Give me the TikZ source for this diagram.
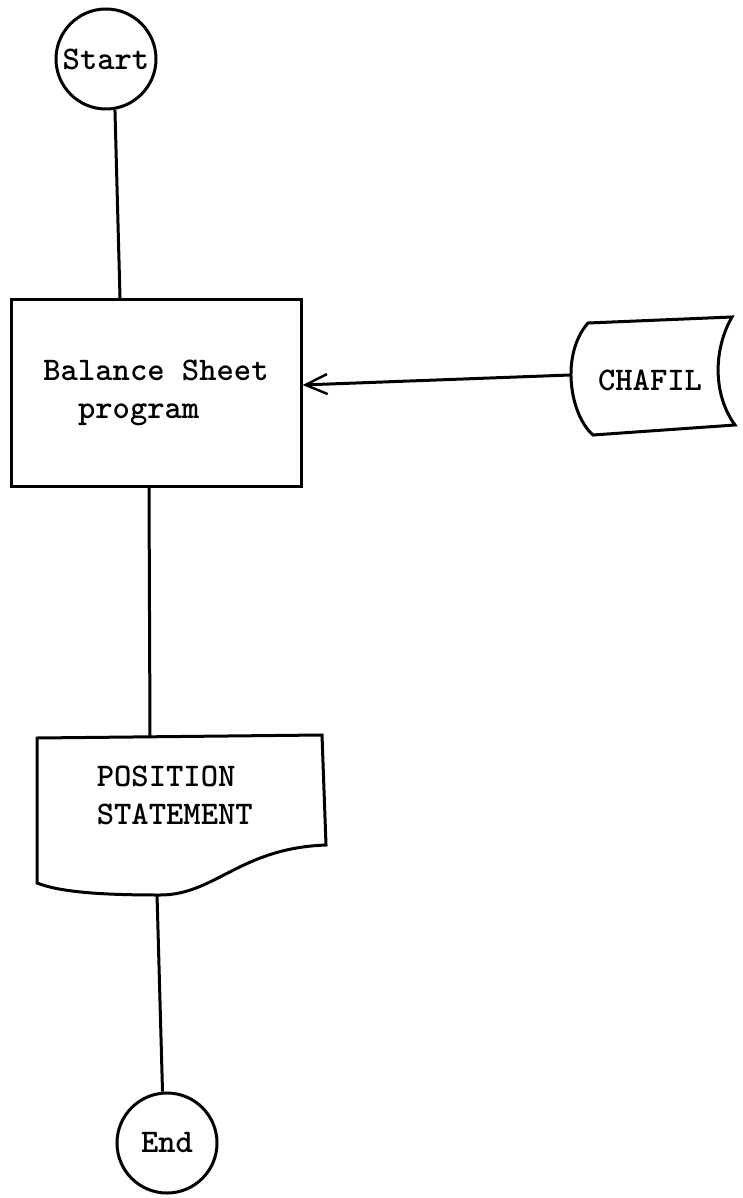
\documentclass[tikz,border=0pt]{standalone}
\usepackage{fontspec}
\usetikzlibrary{arrows.meta,calc}
\begin{document}
\begin{tikzpicture}[x=1pt,y=-1pt,
  every path/.style={line width=3pt},
  txt/.style={font=\ttfamily\bfseries\fontsize{33}{38}\selectfont},
  term/.style={circle,draw,line width=3pt,minimum size=100pt,inner sep=0pt,font=\ttfamily\bfseries\fontsize{33}{38}\selectfont},
  procbox/.style={rectangle,draw,line width=3pt,minimum width=290pt,minimum height=187pt,align=center,txt},
  conn/.style={line width=3pt},
  inarrow/.style={line width=3pt,-{Straight Barb[length=22pt,width=20pt,line width=2.4pt]}}
]
\useasboundingbox (0,0) rectangle (742,1198);
\fill[white] (0,0) rectangle (742,1198);

% terminals
\node[term] (start) at (106,59) {Start};
\node[term] (end) at (167,1143) {End};

% process
\node[procbox] (bs) at (156,393) {Balance Sheet\\program\hphantom{xx}};

% online storage CHAFIL
\draw[line width=3pt] (588,323) -- (732,317) .. controls (713,350) and (713,395) .. (735,425)
      -- (593,435) .. controls (570,415) and (560,355) .. (588,323) -- cycle;
\node[txt] (chafil) at (650,380) {CHAFIL};
\coordinate (chafilL) at (570,375);

% document POSITION STATEMENT
\draw[line width=3pt] (37,738) -- (322,735) -- (326,845)
      .. controls (240,848) and (215,895) .. (160,895)
      .. controls (100,895) and (60,892) .. (37,883) -- cycle;
\node[txt,align=left,anchor=west] (ps) at (92,795) {POSITION\\STATEMENT};
\coordinate (docTop) at (150,736);
\coordinate (docBot) at (157,894);

% connectors
\draw[conn] (start.280) -- ([xshift=-36pt]bs.north);
\draw[inarrow] (chafilL) -- ([yshift=8pt]bs.east);
\draw[conn] ([xshift=-7pt]bs.south) -- (docTop);
\draw[conn] (docBot) -- (end.95);
\end{tikzpicture}
\end{document}
